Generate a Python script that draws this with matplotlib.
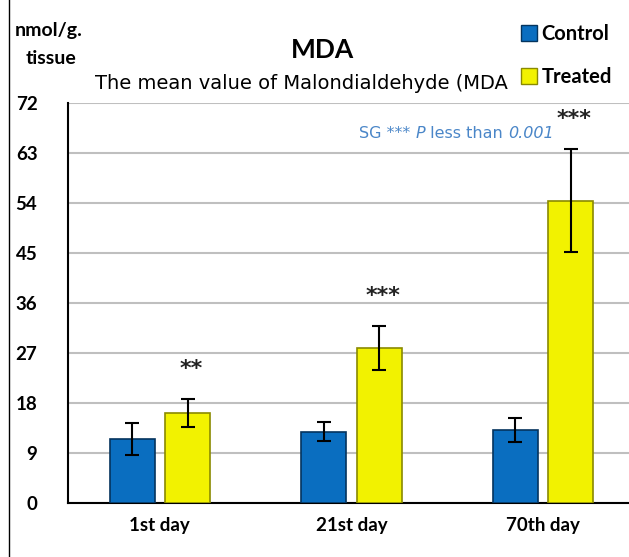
import numpy as np
import matplotlib.pyplot as plt
from matplotlib.lines import Line2D
from matplotlib.offsetbox import TextArea, HPacker, AnnotationBbox

days = ["1st day", "21st day", "70th day"]
control = [11.5, 12.8, 13.1]
control_err = [2.9, 1.7, 2.2]
treated = [16.2, 27.9, 54.4]
treated_err = [2.5, 3.9, 9.3]
stars = ["**", "***", "***"]
yticks = [0, 9, 18, 27, 36, 45, 54, 63, 72]

bold_font = "Lato"
blue = "#0A6EC0"
yellow = "#F2F200"
note_color = "#4A86C8"

fig = plt.figure(figsize=(6.29, 5.57), dpi=100)
ax = fig.add_axes([0.108, 0.097, 0.892, 0.718])

x = np.arange(len(days))
w = 0.235
off = 0.145
ax.bar(x - off, control, w, color=blue, edgecolor="#04345E", linewidth=1.2, zorder=3)
ax.bar(x + off, treated, w, color=yellow, edgecolor="#8A8A00", linewidth=1.2, zorder=3)
ax.errorbar(x - off, control, yerr=control_err, fmt="none", ecolor="black",
            elinewidth=1.5, capsize=5, capthick=1.5, zorder=4)
ax.errorbar(x + off, treated, yerr=treated_err, fmt="none", ecolor="black",
            elinewidth=1.5, capsize=5, capthick=1.5, zorder=4)

for i, s in enumerate(stars):
    top = treated[i] + treated_err[i]
    ax.text(x[i] + off + 0.02, top + 3.6, s, ha="center", va="bottom", fontsize=16,
            fontweight="bold", color="#222222")

ax.set_ylim(0, 72)
ax.set_xlim(-0.48, 2.45)
ax.set_yticks(yticks)
ax.set_yticklabels([str(v) for v in yticks], fontsize=13.5, fontweight="bold",
                   fontname=bold_font)
ax.set_xticks(x)
ax.set_xticklabels(days, fontsize=13.5, fontweight="bold", fontname=bold_font)
ax.tick_params(axis="both", length=0, pad=10)
ax.tick_params(axis="y", pad=22)
ax.grid(axis="y", color="#BFBFBF", linewidth=1.5, zorder=0)
for sp in ["top", "right"]:
    ax.spines[sp].set_visible(False)
ax.spines["left"].set_linewidth(1.5)
ax.spines["bottom"].set_linewidth(1.5)

# significance note, mixed upright / italic
parts = [("SG *** ", "normal"), ("P", "italic"), (" less than ", "normal"),
         ("0.001", "italic")]
areas = [TextArea(t, textprops=dict(fontsize=11.5, color=note_color, style=st))
         for t, st in parts]
box = HPacker(children=areas, pad=0, sep=0, align="baseline")
ax.add_artist(AnnotationBbox(box, (1.55, 66.5), frameon=False, box_alignment=(0.5, 0.5),
                             pad=0))

# texts above the plot
fig.text(0.024, 0.945, "nmol/g.", fontsize=14, fontweight="bold", fontname=bold_font,
         va="center")
fig.text(0.04, 0.895, "tissue", fontsize=14, fontweight="bold", fontname=bold_font,
         va="center")
fig.text(0.512, 0.91, "MDA", fontsize=19, fontweight="bold", fontname=bold_font,
         ha="center", va="center")
fig.text(0.151, 0.85, "The mean value of Malondialdehyde (MDA", fontsize=14,
         va="center")

# legend
handles = [Line2D([], [], marker="s", linestyle="none", markersize=11,
                  markerfacecolor=c, markeredgecolor=e)
           for c, e in [(blue, "#04345E"), (yellow, "#8A8A00")]]
leg = fig.legend(handles, ["Control", "Treated"], loc="upper left",
                 bbox_to_anchor=(0.8, 0.99), frameon=False, handlelength=0.8,
                 handletextpad=0.2, labelspacing=1.15,
                 prop={"family": bold_font, "weight": "bold", "size": 14.5})

fig.add_artist(Line2D([0.015, 0.015], [0, 1], color="black", linewidth=1,
                      transform=fig.transFigure))

fig.savefig("out.png", dpi=100)
